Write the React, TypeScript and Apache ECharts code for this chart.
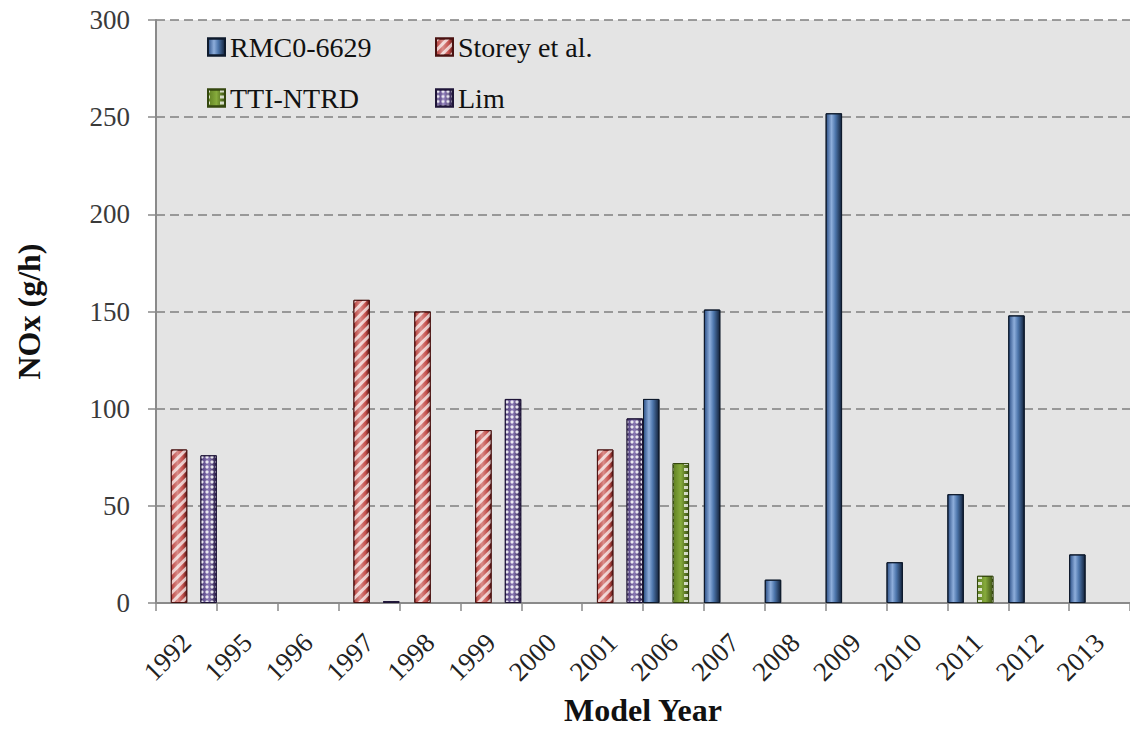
import React, { useEffect, useRef } from "react";
import * as echarts from "echarts";

const years = ["1992", "1995", "1996", "1997", "1998", "1999", "2000", "2001", "2006", "2007", "2008", "2009", "2010", "2011", "2012", "2013"];
const rmc = [null, null, null, null, null, null, null, null, 105, 151, 12, 252, 21, 56, 148, 25];
const storey = [79, null, null, 156, 150, 89, null, 79, null, null, null, null, null, null, null, null];
const tti = [null, null, null, null, null, null, null, null, 72, null, null, null, null, 14, null, null];
const lim = [76, null, null, 1, null, 105, null, 95, null, null, null, null, null, null, null, null];
const yTicks = { min: 0, max: 300, interval: 50 };

const FONT = "Liberation Serif, serif";

export default function App() {
  const ref = useRef<HTMLDivElement>(null);
  useEffect(() => {
    if (!ref.current) return;
    const chart = echarts.init(ref.current, null, { renderer: "svg" });
    const grad = (stops: [number, string][]) =>
      new echarts.graphic.LinearGradient(0, 0, 1, 0, stops.map(([offset, color]) => ({ offset, color })));
    const barCommon = {
      type: "bar",
      barGap: "-10%",
      barCategoryGap: "0%",
    };
    const legendCommon = {
      orient: "vertical", top: 28, itemGap: 23,
      itemWidth: 17, itemHeight: 17, icon: "rect",
      textStyle: { fontFamily: FONT, fontSize: 28, color: "#111" },
    };
    const option = {
      animation: false,
      backgroundColor: "#ffffff",
      textStyle: { fontFamily: FONT },
      aria: { enabled: true, label: { enabled: false }, decal: { show: true } },
      grid: {
        left: 156, right: 0, top: 20, bottom: 130,
        show: true, backgroundColor: "#e4e4e4", borderWidth: 0,
      },
      legend: [
        { ...legendCommon, data: ["RMC0-6629", "TTI-NTRD"], left: 202 },
        { ...legendCommon, data: ["Storey et al.", "Lim"], left: 430 },
      ],
      xAxis: {
        type: "category",
        data: years,
        boundaryGap: true,
        name: "Model Year",
        nameLocation: "middle",
        nameGap: 91,
        nameTextStyle: { fontFamily: FONT, fontSize: 32, fontWeight: "bold", color: "#111" },
        axisLine: { show: true, lineStyle: { color: "#8a8a8a", width: 2 } },
        axisTick: { show: true, length: 8, interval: 0, lineStyle: { color: "#8a8a8a", width: 1.5 } },
        axisLabel: { interval: 0, rotate: 45, margin: 35, fontFamily: FONT, fontSize: 27, color: "#222" },
        splitLine: { show: false },
      },
      yAxis: {
        type: "value",
        min: yTicks.min, max: yTicks.max, interval: yTicks.interval,
        name: "NOx (g/h)",
        nameLocation: "middle",
        nameGap: 111,
        nameTextStyle: { fontFamily: FONT, fontSize: 32, fontWeight: "bold", color: "#111" },
        axisLine: { show: true, lineStyle: { color: "#8a8a8a", width: 2 } },
        axisTick: { show: true, length: 8, lineStyle: { color: "#8a8a8a", width: 1.5 } },
        axisLabel: { margin: 26, fontFamily: FONT, fontSize: 27, color: "#3a3a3a" },
        splitLine: { show: true, lineStyle: { color: "#7f7f7f", width: 1.5, type: [9, 5] } },
      },
      series: [
        {
          ...barCommon,
          name: "RMC0-6629",
          data: rmc,
          itemStyle: {
            color: grad([[0, "#2b4f86"], [0.35, "#8eaedb"], [0.6, "#4d76ac"], [1, "#13223a"]]),
            borderColor: "#0e1a2c", borderWidth: 1,
            decal: { symbol: "none", color: "rgba(0,0,0,0)" },
          },
        },
        {
          ...barCommon,
          name: "Storey et al.",
          data: storey,
          itemStyle: {
            color: grad([[0, "#b8403c"], [0.4, "#d98c89"], [0.75, "#c4504c"], [1, "#5a1715"]]),
            borderColor: "#4a1211", borderWidth: 1,
            decal: {
              symbol: "rect", symbolSize: 1, color: "rgba(255,255,255,0.7)",
              dashArrayX: [1, 0], dashArrayY: [3, 4], rotation: -Math.PI / 4,
            },
          },
        },
        {
          ...barCommon,
          name: "TTI-NTRD",
          data: tti,
          itemStyle: {
            color: grad([[0, "#5f7f22"], [0.5, "#86ab3c"], [1, "#3c5214"]]),
            borderColor: "#34470f", borderWidth: 1,
            decal: {
              symbol: "rect", symbolSize: 1, color: "rgba(255,255,255,0.75)",
              dashArrayX: [[2, 10, 2, 0]], dashArrayY: [3, 3], rotation: 0,
            },
          },
        },
        {
          ...barCommon,
          name: "Lim",
          data: lim,
          itemStyle: {
            color: grad([[0, "#4c3a78"], [0.5, "#8a78b4"], [1, "#241840"]]),
            borderColor: "#1f1538", borderWidth: 1,
            decal: {
              symbol: "circle", symbolSize: 0.8, color: "rgba(255,255,255,0.85)",
              dashArrayX: [4, 1], dashArrayY: [4, 1], rotation: 0,
            },
          },
        },
      ],
    };
    chart.setOption(option as any);
    return () => chart.dispose();
  }, []);
  return (
    <div
      ref={ref}
      style={{ position: "fixed", left: 0, top: 0, width: 1130, height: 733 }}
    />
  );
}
